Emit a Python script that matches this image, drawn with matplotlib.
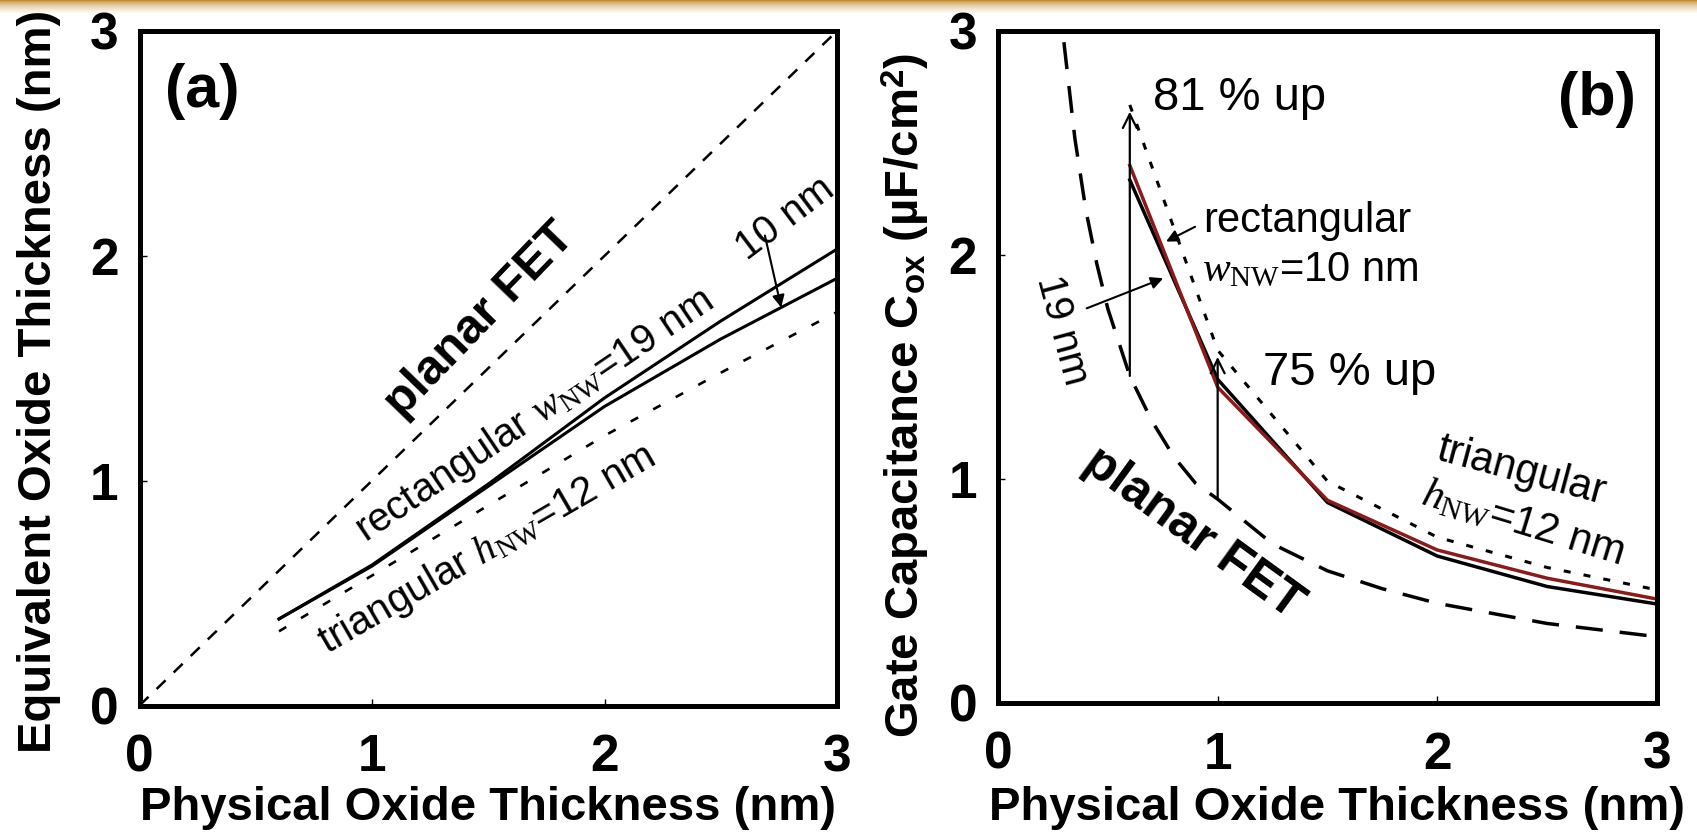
import numpy as np
import matplotlib.pyplot as plt

plt.rcParams['font.family'] = ['Liberation Sans', 'DejaVu Sans']
plt.rcParams['mathtext.fontset'] = 'custom'
plt.rcParams['mathtext.rm'] = 'Liberation Serif'
plt.rcParams['mathtext.it'] = 'Liberation Serif:italic'

# (a) equivalent oxide thickness vs physical oxide thickness (nm)
tox = [0.6, 1.0, 1.5, 2.0, 2.5, 3.0]
eot_rect19 = [0.385, 0.625, 0.985, 1.368, 1.71, 2.03]
eot_rect10 = [0.385, 0.62, 0.975, 1.33, 1.63, 1.90]
eot_tri = [0.33, 0.578, 0.89, 1.20, 1.48, 1.75]
planar_a_x = [0.0, 3.0]
planar_a_y = [0.0, 3.0]

# (b) gate capacitance (uF/cm2)
cox_rect10 = [2.40, 1.41, 0.905, 0.683, 0.557, 0.464]
cox_rect19 = [2.335, 1.445, 0.895, 0.656, 0.52, 0.442]
cox_tri = [2.67, 1.575, 0.99, 0.74, 0.605, 0.505]
planar_b_x = [0.30, 0.35, 0.40, 0.45, 0.5, 0.6, 0.7, 0.8, 0.9, 1.0, 1.25, 1.5, 1.75, 2.0, 2.5, 3.0]
planar_b_y = [2.95, 2.52, 2.20, 1.96, 1.76, 1.46, 1.26, 1.10, 0.98, 0.91, 0.71, 0.59, 0.51, 0.445, 0.355, 0.296]

ticks = [0, 1, 2, 3]
xlabel = 'Physical Oxide Thickness (nm)'

fig = plt.figure(figsize=(16.97, 8.32), dpi=100)

# gold header band
band = fig.add_axes([0, 1 - 14 / 832, 1, 14 / 832])
t = np.linspace(0, 1, 14)[:, None]
top = np.array([0.76, 0.55, 0.18])
grad = top[None, None, :] * (1 - t[..., None] ** 0.6) + np.ones(3) * t[..., None] ** 0.6
band.imshow(np.repeat(grad, 10, axis=1), aspect='auto', extent=[0, 1, 0, 1])
band.axis('off')

ax1 = fig.add_axes([139.5 / 1697, 1 - 705.5 / 832, 697.5 / 1697, 674.5 / 832])
ax2 = fig.add_axes([998 / 1697, 1 - 703 / 832, 659 / 1697, 672 / 832])

for ax in (ax1, ax2):
    ax.set_xlim(0, 3)
    ax.set_ylim(0, 3)
    ax.set_xticks(ticks)
    ax.set_yticks(ticks)
    for s in ax.spines.values():
        s.set_linewidth(3.6)
    ax.tick_params(direction='in', length=5, width=1, labelsize=37)
    ax.tick_params(axis='x', pad=20)
    ax.tick_params(axis='y', pad=15)
    for lab in ax.get_xticklabels() + ax.get_yticklabels():
        lab.set_fontweight('bold')
    ax.set_xlabel(xlabel, fontsize=34, fontweight='bold', va='top')

# ---- panel (a)
ax1.plot(planar_a_x, planar_a_y, color='black', lw=1.8, ls=(0, (5, 4.5)))
ax1.plot(tox, eot_rect19, color='black', lw=2.2)
ax1.plot(tox, eot_rect10, color='black', lw=2.2)
ax1.plot(tox, eot_tri, color='black', lw=1.9, ls=(0, (3.2, 6.5)))

ax1.set_ylabel('Equivalent Oxide Thickness (nm)', fontsize=34, fontweight='bold')
ax1.yaxis.set_label_coords(-0.112, 0.48)
ax1.xaxis.set_label_coords(0.5, -0.12)

ax1.text(0.27, 2.73, '(a)', fontsize=44, fontweight='bold', ha='center', va='center')
ax1.text(1.465, 1.715, 'planar FET', fontsize=35, fontweight='bold', rotation=46,
         ha='center', va='center', rotation_mode='anchor')
ax1.text(1.697, 1.29, r'rectangular $w_{\mathrm{NW}}$=19 nm', fontsize=29, rotation=34,
         ha='center', va='center', rotation_mode='anchor')
ax1.text(1.492, 0.694, r'triangular $h_{\mathrm{NW}}$=12 nm', fontsize=29, rotation=30,
         ha='center', va='center', rotation_mode='anchor')
ax1.text(2.776, 2.168, '10 nm', fontsize=29, rotation=37, ha='center', va='center',
         rotation_mode='anchor')
ax1.annotate('', xy=(2.76, np.interp(2.76, tox, eot_rect10)), xytext=(2.69, 2.09),
             arrowprops=dict(arrowstyle='-|>', lw=1.5, color='black', mutation_scale=18,
                             shrinkA=0, shrinkB=0))

# ---- panel (b)
ax2.plot(planar_b_x, planar_b_y, color='black', lw=2.5, ls=(0, (7.8, 4.9)))
ax2.plot(tox, cox_tri, color='black', lw=2.2, ls=(0, (2.3, 4.3)))
ax2.plot(tox, cox_rect19, color='black', lw=2.5)
ax2.plot(tox, cox_rect10, color='#8b1a1a', lw=2.5)

ax2.set_ylabel(r'Gate Capacitance C$_{\mathregular{ox}}$ (µF/cm$^{\mathregular{2}}$)',
               fontsize=34, fontweight='bold')
ax2.yaxis.set_label_coords(-0.1, 0.458)
ax2.xaxis.set_label_coords(0.515, -0.123)

for xv in (tox[0], tox[1]):
    ax2.annotate('', xy=(xv, np.interp(xv, tox, cox_tri) - 0.03),
                 xytext=(xv, np.interp(xv, planar_b_x, planar_b_y)),
                 arrowprops=dict(arrowstyle='->', lw=1.6, color='black', mutation_scale=25,
                                 shrinkA=0, shrinkB=0))

ax2.text(2.727, 2.696, '(b)', fontsize=44, fontweight='bold', ha='center', va='center')
ax2.text(0.706, 2.647, '81 % up', fontsize=34, ha='left', va='baseline')
ax2.text(1.208, 1.42, '75 % up', fontsize=34, ha='left', va='baseline')
ax2.text(0.935, 2.104, 'rectangular', fontsize=30, ha='left', va='baseline')
ax2.text(0.927, 1.881, r'$w_{\mathrm{NW}}$=10 nm', fontsize=30, ha='left', va='baseline')
ax2.annotate('', xy=(0.765, 2.06), xytext=(0.897, 2.126),
             arrowprops=dict(arrowstyle='-|>', lw=1.5, color='black', mutation_scale=18,
                             shrinkA=0, shrinkB=0))
ax2.annotate('', xy=(0.752, 1.896), xytext=(0.404, 1.762),
             arrowprops=dict(arrowstyle='-|>', lw=1.5, color='black', mutation_scale=18,
                             shrinkA=0, shrinkB=0))
ax2.text(0.291, 1.665, '19 nm', fontsize=29, rotation=-75, ha='center', va='center',
         rotation_mode='anchor')
ax2.text(0.888, 0.759, 'planar FET', fontsize=36, fontweight='bold', rotation=-36,
         ha='center', va='center', rotation_mode='anchor')
ax2.text(2.384, 1.037, 'triangular', fontsize=30, rotation=-15, ha='center', va='center',
         rotation_mode='anchor')
ax2.text(2.388, 0.802, r'$h_{\mathrm{NW}}$=12 nm', fontsize=30, rotation=-17, ha='center',
         va='center', rotation_mode='anchor')

fig.savefig('out.png', dpi=100)
